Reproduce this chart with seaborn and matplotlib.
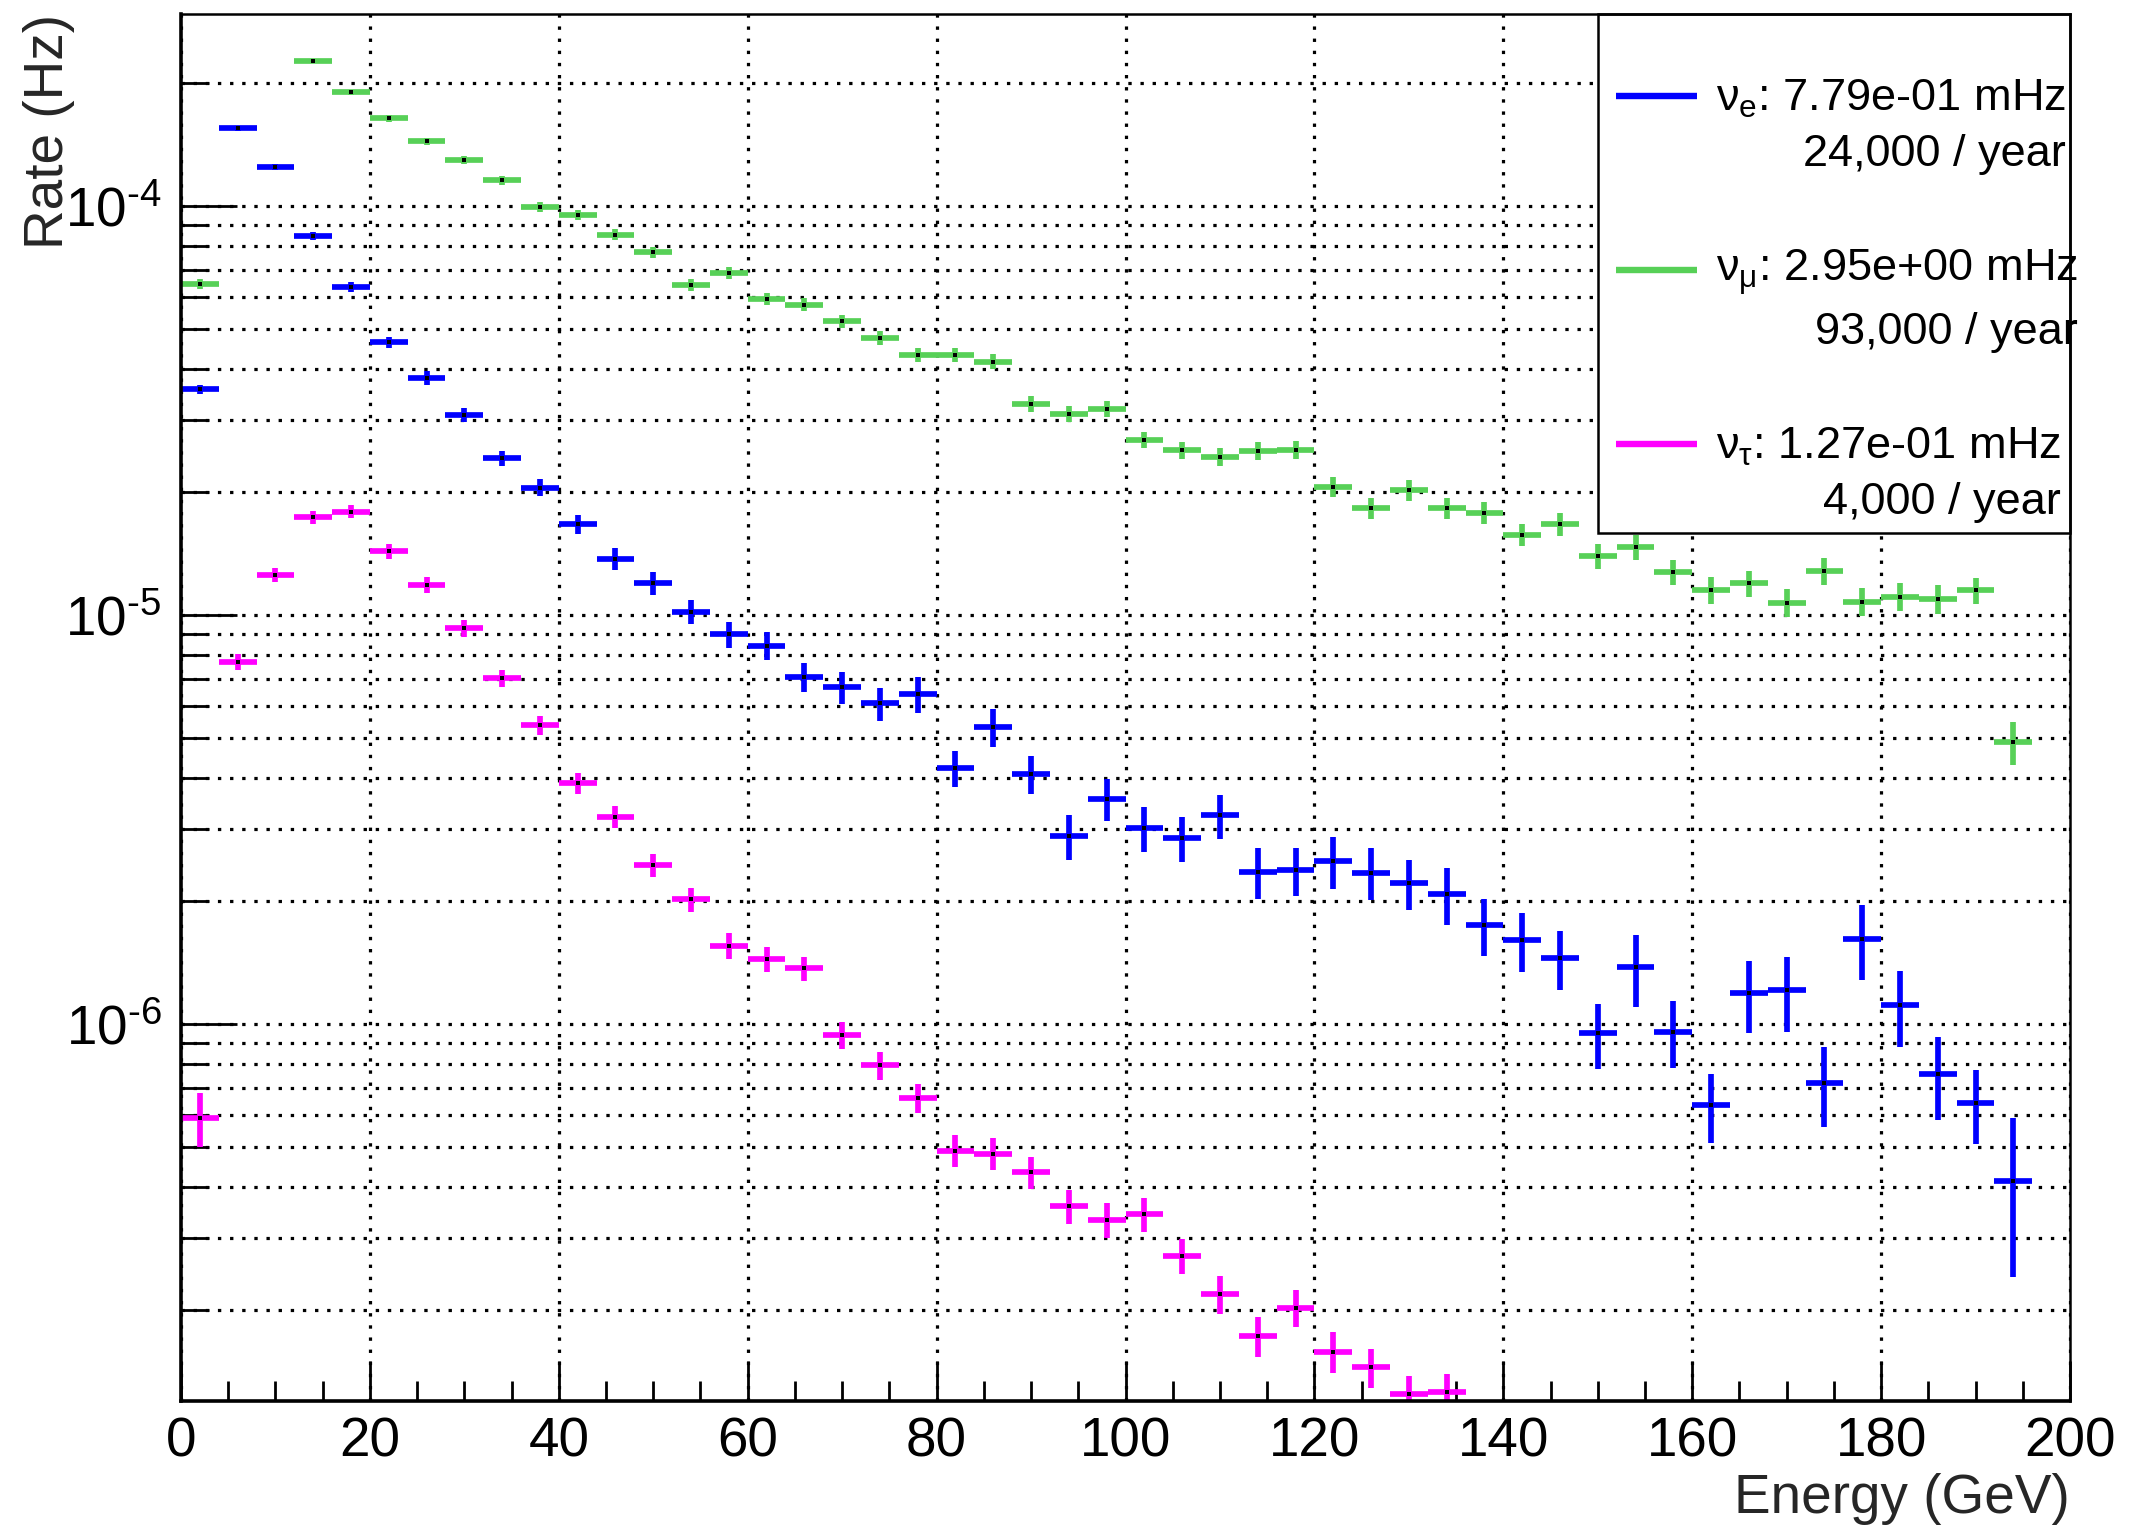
import numpy as np
import pandas as pd
import matplotlib
matplotlib.use("Agg")
import matplotlib.pyplot as plt
import seaborn as sns
from matplotlib.lines import Line2D
from matplotlib.patches import Rectangle
from matplotlib.legend_handler import HandlerLine2D
from matplotlib.ticker import MultipleLocator, LogLocator, FuncFormatter, NullFormatter

# ---------------- data ----------------
energy_gev = [2, 6, 10, 14, 18, 22, 26, 30, 34, 38, 42, 46, 50, 54, 58, 62, 66, 70, 74, 78,
              82, 86, 90, 94, 98, 102, 106, 110, 114, 118, 122, 126, 130, 134, 138, 142, 146, 150, 154, 158,
              162, 166, 170, 174, 178, 182, 186, 190, 194, 198]
bin_half_width = 2.0

nan = float("nan")
rate_nu_e = [3.57e-5, 1.55e-4, 1.25e-4, 8.46e-5, 6.36e-5, 4.65e-5, 3.81e-5, 3.09e-5, 2.42e-5, 2.05e-5,
             1.67e-5, 1.375e-5, 1.20e-5, 1.02e-5, 8.98e-6, 8.42e-6, 7.06e-6, 6.66e-6, 6.09e-6, 6.42e-6,
             4.23e-6, 5.33e-6, 4.09e-6, 2.88e-6, 3.56e-6, 3.02e-6, 2.85e-6, 3.24e-6, 2.36e-6, 2.38e-6,
             2.51e-6, 2.35e-6, 2.21e-6, 2.08e-6, 1.75e-6, 1.61e-6, 1.45e-6, 9.5e-7, 1.38e-6, 9.6e-7,
             6.34e-7, 1.19e-6, 1.21e-6, 7.2e-7, 1.62e-6, 1.115e-6, 7.58e-7, 6.42e-7, 4.15e-7, nan]
relerr_nu_e = [2.5, 1.3, 1.7, 2.3, 2.8, 3.2, 3.8, 4.0, 4.4, 4.8,
               5.5, 6.2, 6.6, 6.6, 7.5, 7.8, 8.0, 9.0, 9.3, 10.0,
               10.0, 10.5, 10.8, 12.5, 12.0, 12.5, 12.5, 12.5, 14.0, 13.5,
               14.5, 14.5, 14.0, 16.0, 16.0, 16.5, 16.5, 18.0, 20.0, 18.5,
               19.0, 20.0, 21.0, 22.0, 21.0, 21.0, 23.0, 20.5, 42.0, nan]

rate_nu_mu = [6.46e-5, nan, nan, 2.26e-4, 1.90e-4, 1.64e-4, 1.44e-4, 1.30e-4, 1.156e-4, 9.96e-5,
              9.54e-5, 8.52e-5, 7.71e-5, 6.41e-5, 6.86e-5, 5.93e-5, 5.75e-5, 5.23e-5, 4.77e-5, 4.33e-5,
              4.33e-5, 4.17e-5, 3.29e-5, 3.10e-5, 3.19e-5, 2.68e-5, 2.53e-5, 2.44e-5, 2.52e-5, 2.54e-5,
              2.06e-5, 1.83e-5, 2.02e-5, 1.83e-5, 1.78e-5, 1.575e-5, 1.67e-5, 1.395e-5, 1.47e-5, 1.276e-5,
              1.153e-5, 1.196e-5, 1.074e-5, 1.284e-5, 1.08e-5, 1.111e-5, 1.095e-5, 1.15e-5, 4.90e-6, nan]
relerr_nu_mu = [2.8, nan, nan, 1.2, 1.5, 1.8, 2.0, 2.2, 2.4, 2.6,
                2.8, 3.0, 3.1, 3.3, 3.3, 3.5, 3.6, 3.8, 3.9, 4.0,
                4.1, 4.2, 4.4, 4.5, 4.5, 4.6, 4.8, 5.0, 5.0, 5.0,
                5.5, 5.8, 6.0, 6.0, 6.2, 6.3, 6.5, 7.0, 7.0, 7.0,
                7.5, 7.5, 7.8, 7.5, 8.0, 8.0, 8.0, 7.5, 12.0, nan]

rate_nu_tau = [5.91e-7, 7.69e-6, 1.254e-5, 1.736e-5, 1.793e-5, 1.436e-5, 1.185e-5, 9.29e-6, 7.01e-6, 5.38e-6,
               3.88e-6, 3.21e-6, 2.45e-6, 2.02e-6, 1.558e-6, 1.442e-6, 1.37e-6, 9.43e-7, 7.94e-7, 6.6e-7,
               4.91e-7, 4.83e-7, 4.35e-7, 3.59e-7, 3.33e-7, 3.44e-7, 2.72e-7, 2.19e-7, 1.73e-7, 2.03e-7,
               1.585e-7, 1.45e-7, 1.246e-7, 1.262e-7, nan, nan, nan, nan, nan, nan,
               nan, nan, nan, nan, nan, nan, nan, nan, nan, nan]
relerr_nu_tau = [15.0, 4.6, 3.9, 3.7, 3.6, 4.2, 4.4, 4.6, 5.0, 5.5,
                 5.9, 6.2, 6.7, 6.7, 7.5, 7.0, 6.8, 7.5, 8.0, 8.0,
                 9.0, 9.0, 9.0, 9.5, 10.0, 9.5, 10.0, 10.5, 11.0, 10.5,
                 11.5, 11.0, 11.0, 11.0, nan, nan, nan, nan, nan, nan,
                 nan, nan, nan, nan, nan, nan, nan, nan, nan, nan]

series_names = ["nu_e", "nu_mu", "nu_tau"]
legend_labels = [r"$\mathregular{\nu_{e}}$: 7.79e-01 mHz" + "\n24,000 / year",
                 r"$\mathregular{\nu_{\mu}}$: 2.95e+00 mHz" + "\n93,000 / year",
                 r"$\mathregular{\nu_{\tau}}$: 1.27e-01 mHz" + "\n4,000 / year"]
colors = ["#0000ff", "#57d057", "#ff00ff"]

x_ticks_major = [0, 20, 40, 60, 80, 100, 120, 140, 160, 180, 200]
x_label = "Energy (GeV)"
y_label = "Rate (Hz)"

# ---------------- style ----------------
sns.set_theme(style="ticks")
plt.rcParams.update({
    "font.family": ["Liberation Sans", "DejaVu Sans"],
    "mathtext.fontset": "custom",
    "mathtext.rm": "Liberation Sans",
    "mathtext.it": "Liberation Sans:italic",
    "mathtext.bf": "Liberation Sans:bold",
    "mathtext.sf": "Liberation Sans",
    "text.color": "black",
    "axes.edgecolor": "black",
    "xtick.color": "black",
    "ytick.color": "black",
})

LABEL_SIZE = 39.5
W, H = 2132, 1527
fig = plt.figure(figsize=(W / 100, H / 100), dpi=100)
fig.patch.set_facecolor("white")
ax_l, ax_r, ax_t, ax_b = 181, 2070, 14, 1401
ax = fig.add_axes([ax_l / W, 1 - ax_b / H, (ax_r - ax_l) / W, (ax_b - ax_t) / H])
ax.set_facecolor("white")
ax.set_yscale("log")

rates = [rate_nu_e, rate_nu_mu, rate_nu_tau]
relerrs = [relerr_nu_e, relerr_nu_mu, relerr_nu_tau]

frames = []
for name, r, e, c in zip(series_names, rates, relerrs, colors):
    r = np.asarray(r, dtype=float)
    e = np.asarray(e, dtype=float)
    ax.errorbar(energy_gev, r, xerr=bin_half_width, yerr=r * e / 100.0, fmt="none",
                ecolor=c, elinewidth=4.1, capsize=0, zorder=3)
    frames.append(pd.DataFrame({"energy": energy_gev, "rate": r, "flavour": name}))
df = pd.concat(frames, ignore_index=True).dropna()

sns.scatterplot(data=df, x="energy", y="rate", color="black", marker="s", s=7,
                linewidth=0, ax=ax, zorder=4, legend=False)

ax.set_xlim(0, 200)
ax.set_ylim(1.2e-7, 2.95e-4)

# ticks
ax.xaxis.set_major_locator(MultipleLocator(20))
ax.xaxis.set_minor_locator(MultipleLocator(5))
ax.yaxis.set_major_locator(LogLocator(base=10, numticks=20))
ax.yaxis.set_minor_locator(LogLocator(base=10, subs=(2, 3, 4, 5, 6, 7, 8, 9), numticks=20))
ax.yaxis.set_major_formatter(FuncFormatter(
    lambda v, p: r"$\mathregular{10^{\text{%d}}}$" % int(round(np.log10(v)))))
ax.yaxis.set_minor_formatter(NullFormatter())
ax.set_xticks(x_ticks_major)
ax.set_xticklabels([str(v) for v in x_ticks_major])

ax.tick_params(axis="both", which="both", direction="in", top=False, right=False)
ax.tick_params(axis="x", which="major", length=28.8, width=2.0, labelsize=LABEL_SIZE, pad=11)
ax.tick_params(axis="x", which="minor", length=14.4, width=2.0)
ax.tick_params(axis="y", which="major", length=40, width=2.0, labelsize=LABEL_SIZE, pad=14)
ax.tick_params(axis="y", which="minor", length=20, width=2.0)

# grid
ax.set_axisbelow(True)
grid_kw = dict(color="black", linewidth=2.3, linestyle=(0, (1.05, 2.75)))
ax.grid(True, which="major", axis="x", **grid_kw)
ax.grid(True, which="both", axis="y", **grid_kw)

for s in ["left", "bottom"]:
    ax.spines[s].set_linewidth(2.6)
for s in ["top", "right"]:
    ax.spines[s].set_linewidth(1.8)
for s in ax.spines.values():
    s.set_color("black")
    s.set_zorder(6)

# axis labels
ax.set_xlabel(x_label, fontsize=LABEL_SIZE, loc="right")
ax.xaxis.set_label_coords(1.0, -0.0807)
ax.xaxis.label.set_va("baseline")
ax.set_ylabel(y_label, fontsize=LABEL_SIZE, loc="top")
ax.yaxis.set_label_coords(-0.0627, 1.0)
ax.yaxis.label.set_va("baseline")

# legend box
lx0 = (1598 - ax_l) / (ax_r - ax_l)
ly0 = 1 - (533 - ax_t) / (ax_b - ax_t)
ax.add_patch(Rectangle((lx0, ly0), 1 - lx0, 1 - ly0, transform=ax.transAxes,
                       facecolor="white", edgecolor="black", linewidth=1.8,
                       zorder=5, clip_on=False))


class FirstLineHandler(HandlerLine2D):
    def __init__(self, shift, **kw):
        super().__init__(**kw)
        self.shift = shift

    def create_artists(self, legend, orig_handle, xdescent, ydescent, width, height, fontsize, trans):
        arts = super().create_artists(legend, orig_handle, xdescent, ydescent,
                                      width, height, fontsize, trans)
        for a in arts:
            a.set_ydata(np.asarray(a.get_ydata(), float) + self.shift * fontsize)
        return arts


handles = [Line2D([], [], color=c, lw=4.6, solid_capstyle="butt") for c in colors]
hx = (1616 - ax_l) / (ax_r - ax_l)
hy = 1 - (78 - ax_t) / (ax_b - ax_t)
leg = ax.legend(handles, legend_labels, loc="upper left", bbox_to_anchor=(hx, hy),
                bbox_transform=ax.transAxes, frameon=False, fontsize=32.5,
                borderpad=0, borderaxespad=0, handlelength=1.8, handletextpad=0.42,
                labelspacing=1.62,
                handler_map={Line2D: FirstLineHandler(0.68)})
leg.set_zorder(7)
for t in leg.get_texts():
    t.set_multialignment("right")
    t.set_linespacing(1.42)

fig.savefig("out.png", dpi=100, facecolor="white")
